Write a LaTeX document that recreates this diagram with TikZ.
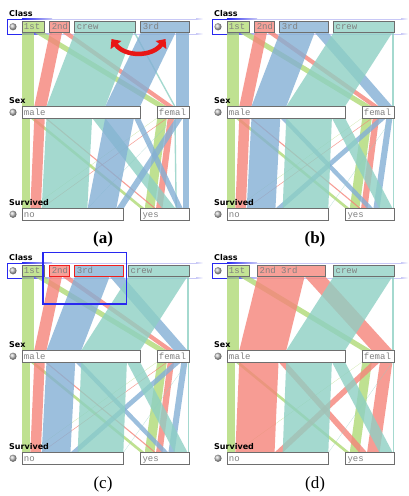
\documentclass[tikz,border=0pt]{standalone}
\usepackage{fontspec}
\usetikzlibrary{arrows.meta}
\newfontfamily\axfont{DejaVu Sans}
\newfontfamily\catfont{Liberation Mono}
\newfontfamily\capfont{Liberation Serif}
\definecolor{cfirst}{RGB}{176,218,118}
\definecolor{csecond}{RGB}{245,132,122}
\definecolor{cthird}{RGB}{132,176,213}
\definecolor{ccrew}{RGB}{142,208,196}
\definecolor{bfirst}{RGB}{196,228,148}
\definecolor{bsecond}{RGB}{247,160,152}
\definecolor{bthird}{RGB}{160,194,222}
\definecolor{bcrew}{RGB}{168,219,209}
\definecolor{boxgrey}{RGB}{110,110,110}
\definecolor{txtgrey}{RGB}{128,128,128}
\definecolor{selblue}{RGB}{40,40,240}
\definecolor{lavender}{RGB}{200,200,246}
\definecolor{arrowred}{RGB}{232,22,22}
\definecolor{selred}{RGB}{240,30,30}
\tikzset{
  axlbl/.style={font=\axfont\bfseries\fontsize{8}{8}\selectfont, inner sep=0pt, anchor=base west},
  catlbl/.style={font=\catfont\fontsize{9}{9}\selectfont, text=txtgrey, inner sep=0pt, anchor=base west},
  clsbox/.style={draw=boxgrey, line width=0.9pt, fill=#1},
  selbox/.style={draw=selred, line width=0.9pt, fill=#1},
  wbox/.style={draw=boxgrey, line width=0.9pt, fill=white},
  ribbon/.style={fill=#1, fill opacity=0.8},
  capt/.style={font=\capfont\fontsize{17}{17}\selectfont, inner sep=0pt},
  knob/.style={ball color=gray!45},
}
% box with clipped label: name, left, right, top, bottom, style, text
\newcommand\cbox[7]{%
  \path[#6] (#2,#4) rectangle (#3,#5);
  \begin{scope}
    \clip (#2,#4) rectangle (#3-44,#5);
    \node[catlbl] (#1) at (#2+26,#5-2.6) {#7};
  \end{scope}}
\newcommand\ribup[5]{\fill[ribbon=#1] (#2,32.5) -- (#3,32.5) -- (#5,106.5) -- (#4,106.5) -- cycle;}
\newcommand\ribdn[5]{\fill[ribbon=#1] (#2,118) -- (#3,118) -- (#5,208.5) -- (#4,208.5) -- cycle;}
\newcommand\panelframe{%
  \fill[selblue] (-15.5,18.5) rectangle (-14.5,34.5);
  \fill[selblue] (-15,18.5) rectangle (0,19.5);
  \fill[selblue] (-15,33.5) rectangle (0,34.5);
  \shade[left color=selblue, right color=lavender] (0,18.5) rectangle (30,19.5);
  \shade[left color=selblue, right color=lavender] (0,33.5) rectangle (30,34.5);
  \fill[lavender] (30,18.5) rectangle (174,19.5);
  \fill[lavender] (30,33.5) rectangle (174,34.5);
  \shade[left color=lavender, right color=white] (174,18.5) rectangle (181,19.5);
  \shade[left color=lavender, right color=white] (174,33.5) rectangle (181,34.5);}
\newcommand\panellabels[1]{%
  \shade[knob] (-9,26.75) circle (3.6);
  \shade[knob] (-9,112.25) circle (3.6);
  \shade[knob] (-9,214.25) circle (3.6);
  \node[axlbl] (#1class) at (-13,16.7) {Class};
  \node[axlbl] (#1sex) at (-13,103.5) {Sex};
  \node[axlbl] (#1surv) at (-13,205) {Survived};}
\newcommand\sexsurv[1]{%
  \cbox{#1male}{0}{1731}{106.5}{118}{wbox}{male}
  \cbox{#1fem}{1980.45}{2450.45}{106.5}{118}{wbox}{female}
  \cbox{#1no}{0}{1490}{208.5}{220}{wbox}{no}
  \cbox{#1yes}{1739.45}{2450.45}{208.5}{220}{wbox}{yes}}
% ribbons for class order 1st, 2nd, 3rd, crew
\newcommand\ribsBC{%
  \ribup{cfirst}{0}{180}{0}{180}
  \ribup{cfirst}{180}{325}{1980.45}{2125.45}
  \ribup{csecond}{408.15}{587.15}{180}{359}
  \ribup{csecond}{587.15}{693.15}{2125.45}{2231.45}
  \ribup{cthird}{776.3}{1286.3}{359}{869}
  \ribup{cthird}{1286.3}{1482.3}{2231.45}{2427.45}
  \ribup{ccrew}{1565.45}{2427.45}{869}{1731}
  \ribup{ccrew}{2427.45}{2450.45}{2427.45}{2450.45}
  \ribdn{cfirst}{0}{118}{0}{118}
  \ribdn{cfirst}{118}{180}{1739.45}{1801.45}
  \ribdn{cfirst}{1980.45}{1984.45}{118}{122}
  \ribdn{cfirst}{1984.45}{2125.45}{1801.45}{1942.45}
  \ribdn{csecond}{180}{334}{122}{276}
  \ribdn{csecond}{334}{359}{1942.45}{1967.45}
  \ribdn{csecond}{2125.45}{2138.45}{276}{289}
  \ribdn{csecond}{2138.45}{2231.45}{1967.45}{2060.45}
  \ribdn{cthird}{359}{781}{289}{711}
  \ribdn{cthird}{781}{869}{2060.45}{2148.45}
  \ribdn{cthird}{2231.45}{2337.45}{711}{817}
  \ribdn{cthird}{2337.45}{2427.45}{2148.45}{2238.45}
  \ribdn{ccrew}{869}{1539}{817}{1487}
  \ribdn{ccrew}{1539}{1731}{2238.45}{2430.45}
  \ribdn{ccrew}{2427.45}{2430.45}{1487}{1490}
  \ribdn{ccrew}{2430.45}{2450.45}{2430.45}{2450.45}}
\begin{document}
\begin{tikzpicture}[x=1pt, y=-1pt]
\useasboundingbox (0,0) rectangle (408,496);
\fill[white] (0,0) rectangle (408,496);
% ---------------- panel (a)
\begin{scope}[xshift=22pt]
  \panelframe
  \begin{scope}[x=0.068151pt]
    \ribup{cfirst}{0}{180}{0}{180}
    \ribup{cfirst}{180}{325}{1980.45}{2125.45}
    \ribup{csecond}{408.15}{587.15}{180}{359}
    \ribup{csecond}{587.15}{693.15}{2125.45}{2231.45}
    \ribup{ccrew}{776.3}{1638.3}{359}{1221}
    \ribup{ccrew}{1638.3}{1661.3}{2231.45}{2254.45}
    \ribup{cthird}{1744.45}{2254.45}{1221}{1731}
    \ribup{cthird}{2254.45}{2450.45}{2254.45}{2450.45}
    \ribdn{cfirst}{0}{118}{0}{118}
    \ribdn{cfirst}{118}{180}{1739.45}{1801.45}
    \ribdn{cfirst}{1980.45}{1984.45}{118}{122}
    \ribdn{cfirst}{1984.45}{2125.45}{1801.45}{1942.45}
    \ribdn{csecond}{180}{334}{122}{276}
    \ribdn{csecond}{334}{359}{1942.45}{1967.45}
    \ribdn{csecond}{2125.45}{2138.45}{276}{289}
    \ribdn{csecond}{2138.45}{2231.45}{1967.45}{2060.45}
    \ribdn{ccrew}{359}{1029}{289}{959}
    \ribdn{ccrew}{1029}{1221}{2060.45}{2252.45}
    \ribdn{ccrew}{2231.45}{2234.45}{959}{962}
    \ribdn{ccrew}{2234.45}{2254.45}{2252.45}{2272.45}
    \ribdn{cthird}{1221}{1643}{962}{1384}
    \ribdn{cthird}{1643}{1731}{2272.45}{2360.45}
    \ribdn{cthird}{2254.45}{2360.45}{1384}{1490}
    \ribdn{cthird}{2360.45}{2450.45}{2360.45}{2450.45}
    \cbox{afirst}{0}{325}{21}{32.5}{clsbox=bfirst}{1st}
    \cbox{asecond}{408.15}{693.15}{21}{32.5}{clsbox=bsecond}{2nd}
    \cbox{acrew}{776.3}{1661.3}{21}{32.5}{clsbox=bcrew}{crew}
    \cbox{athird}{1744.45}{2450.45}{21}{32.5}{clsbox=bthird}{3rd}
    \sexsurv{a}
  \end{scope}
  \panellabels{a}
  \coordinate (arrL) at (89.5,39);
  \coordinate (arrR) at (143.5,39);
  \draw[arrowred, line width=4.5pt, {Triangle[length=7.5pt,width=13pt]}-{Triangle[length=7.5pt,width=13pt]}]
    (arrL) .. controls (103,57) and (130,57) .. (arrR);
\end{scope}
% ---------------- panel (b)
\begin{scope}[xshift=227pt]
  \panelframe
  \begin{scope}[x=0.068151pt]
    \ribsBC
    \cbox{bfirstbox}{0}{325}{21}{32.5}{clsbox=bfirst}{1st}
    \cbox{bsecondbox}{408.15}{693.15}{21}{32.5}{clsbox=bsecond}{2nd}
    \cbox{bthirdbox}{776.3}{1482.3}{21}{32.5}{clsbox=bthird}{3rd}
    \cbox{bcrewbox}{1565.45}{2450.45}{21}{32.5}{clsbox=bcrew}{crew}
    \sexsurv{b}
  \end{scope}
  \panellabels{b}
\end{scope}
% ---------------- panel (c)
\begin{scope}[xshift=22pt, yshift=-244pt]
  \panelframe
  \begin{scope}[x=0.068151pt]
    \ribsBC
    \cbox{cfirstbox}{0}{325}{21}{32.5}{clsbox=bfirst}{1st}
    \cbox{csecondbox}{408.15}{693.15}{21}{32.5}{selbox=bsecond}{2nd}
    \cbox{cthirdbox}{776.3}{1482.3}{21}{32.5}{selbox=bthird}{3rd}
    \cbox{ccrewbox}{1565.45}{2450.45}{21}{32.5}{clsbox=bcrew}{crew}
    \sexsurv{c}
  \end{scope}
  \panellabels{c}
  \draw[selblue, line width=1.3pt] (21,8.3) rectangle (104.7,60);
\end{scope}
% ---------------- panel (d)
\begin{scope}[xshift=227pt, yshift=-244pt]
  \panelframe
  \begin{scope}[x=0.068151pt]
    \ribup{cfirst}{0}{180}{0}{180}
    \ribup{cfirst}{180}{325}{1980.45}{2125.45}
    \ribup{csecond}{449.725}{1138.725}{180}{869}
    \ribup{csecond}{1138.725}{1440.725}{2125.45}{2427.45}
    \ribup{ccrew}{1565.45}{2427.45}{869}{1731}
    \ribup{ccrew}{2427.45}{2450.45}{2427.45}{2450.45}
    \ribdn{cfirst}{0}{118}{0}{118}
    \ribdn{cfirst}{118}{180}{1739.45}{1801.45}
    \ribdn{cfirst}{1980.45}{1984.45}{118}{122}
    \ribdn{cfirst}{1984.45}{2125.45}{1801.45}{1942.45}
    \ribdn{csecond}{180}{756}{122}{698}
    \ribdn{csecond}{756}{869}{1942.45}{2055.45}
    \ribdn{csecond}{2125.45}{2244.45}{698}{817}
    \ribdn{csecond}{2244.45}{2427.45}{2055.45}{2238.45}
    \ribdn{ccrew}{869}{1539}{817}{1487}
    \ribdn{ccrew}{1539}{1731}{2238.45}{2430.45}
    \ribdn{ccrew}{2427.45}{2430.45}{1487}{1490}
    \ribdn{ccrew}{2430.45}{2450.45}{2430.45}{2450.45}
    \cbox{dfirstbox}{0}{325}{21}{32.5}{clsbox=bfirst}{1st}
    \cbox{dmergedbox}{449.725}{1440.725}{21}{32.5}{clsbox=bsecond}{2nd 3rd}
    \cbox{dcrewbox}{1565.45}{2450.45}{21}{32.5}{clsbox=bcrew}{crew}
    \sexsurv{d}
  \end{scope}
  \panellabels{d}
\end{scope}
% ---------------- captions
\node[capt] (capa) at (103,239) {\bfseries (a)};
\node[capt] (capb) at (315,239) {\bfseries (b)};
\node[capt] (capc) at (103,484) {(c)};
\node[capt] (capd) at (315,484) {(d)};
\end{tikzpicture}
\end{document}
